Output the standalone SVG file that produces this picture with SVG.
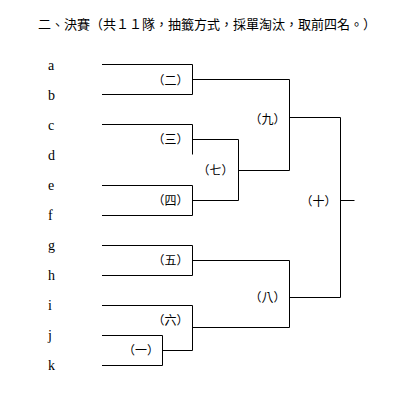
<svg xmlns="http://www.w3.org/2000/svg" width="400" height="400" viewBox="0 0 400 400">
<style>
.bg{fill:#fff}
.ln{fill:none;stroke:#000;stroke-width:1}
.team{font-family:"Liberation Serif","DejaVu Serif",serif;font-size:14px;fill:#000}
.match{font-family:"Noto Sans CJK TC","Noto Sans CJK SC",sans-serif;font-size:12px;fill:#000;text-anchor:middle}
.title{font-family:"Noto Sans CJK TC","Noto Sans CJK SC",sans-serif;font-size:13px;fill:#000}
</style>
<rect class="bg" x="0" y="0" width="400" height="400"/>
<text class="title" x="38" y="29">二、決賽（共１１隊，抽籤方式，採單淘汰，取前四名。）</text>
<g id="connectors">
<path class="ln" d="M102,64.5H192.5V94.5H102"/>
<path class="ln" d="M102,124.5H192.5V154.5"/>
<path class="ln" d="M102,185.5H192.5V215.5H102"/>
<path class="ln" d="M102,245.5H192.5V275.5H102"/>
<path class="ln" d="M102,305.5H192.5V350.5"/>
<path class="ln" d="M102,335.5H162.5V365.5H102"/>
<path class="ln" d="M162.5,350.5H192.5"/>
<path class="ln" d="M192.5,79.5H289.5V170.5H238.5"/>
<path class="ln" d="M192.5,139.5H238.5V200.5H192.5"/>
<path class="ln" d="M192.5,260.5H289.5V327.5H192.5"/>
<path class="ln" d="M289.5,117.5H340.5V297.5H289.5"/>
<path class="ln" d="M340.5,200.5H354.5"/>
</g>
<g id="teams">
<g id="team-a"><text class="team" x="48" y="70">a</text></g>
<g id="team-b"><text class="team" x="48" y="100">b</text></g>
<g id="team-c"><text class="team" x="48" y="130">c</text></g>
<g id="team-d"><text class="team" x="48" y="160">d</text></g>
<g id="team-e"><text class="team" x="48" y="190">e</text></g>
<g id="team-f"><text class="team" x="48" y="220">f</text></g>
<g id="team-g"><text class="team" x="48" y="250">g</text></g>
<g id="team-h"><text class="team" x="48" y="280">h</text></g>
<g id="team-i"><text class="team" x="48" y="310">i</text></g>
<g id="team-j"><text class="team" x="48" y="340">j</text></g>
<g id="team-k"><text class="team" x="48" y="370">k</text></g>
</g>
<g id="matches">
<g id="m1"><text class="match" x="141" y="355">（一）</text></g>
<g id="m2"><text class="match" x="170.5" y="84.5">（二）</text></g>
<g id="m3"><text class="match" x="170.5" y="143.5">（三）</text></g>
<g id="m4"><text class="match" x="170.5" y="204.5">（四）</text></g>
<g id="m5"><text class="match" x="170.5" y="265">（五）</text></g>
<g id="m6"><text class="match" x="170.5" y="325">（六）</text></g>
<g id="m7"><text class="match" x="215.5" y="174.5">（七）</text></g>
<g id="m8"><text class="match" x="267.5" y="302">（八）</text></g>
<g id="m9"><text class="match" x="267.5" y="123.5">（九）</text></g>
<g id="m10"><text class="match" x="318.5" y="206">（十）</text></g>
</g>
</svg>
